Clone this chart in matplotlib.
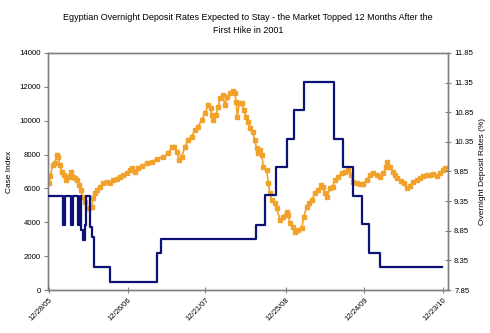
import matplotlib
matplotlib.use("Agg")
import matplotlib.pyplot as plt
import pandas as pd

plt.rcParams['font.family'] = ['Liberation Sans', 'DejaVu Sans']

# CASE index (left axis)
case_dates = [
    "2005-12-29", "2006-01-04", "2006-01-14", "2006-01-25", "2006-02-02", "2006-02-09",
    "2006-02-17", "2006-02-25", "2006-03-07", "2006-03-17", "2006-03-27", "2006-04-07",
    "2006-04-19", "2006-04-27", "2006-05-08", "2006-05-17", "2006-05-23", "2006-06-02",
    "2006-06-12", "2006-06-20", "2006-07-02", "2006-07-13", "2006-07-21", "2006-07-29",
    "2006-08-05", "2006-08-21", "2006-09-05", "2006-09-21", "2006-10-06", "2006-10-21",
    "2006-11-06", "2006-11-21", "2006-12-06", "2006-12-22", "2007-01-06", "2007-01-14",
    "2007-01-29", "2007-02-13", "2007-03-01", "2007-03-24", "2007-04-16", "2007-05-09",
    "2007-06-09", "2007-07-02", "2007-07-18", "2007-07-28", "2007-08-10", "2007-08-22",
    "2007-09-02", "2007-09-17", "2007-10-02", "2007-10-18", "2007-11-02", "2007-11-17",
    "2007-12-03", "2007-12-18", "2008-01-03", "2008-01-14", "2008-01-18", "2008-01-26",
    "2008-02-07", "2008-02-18", "2008-02-26", "2008-03-09", "2008-03-20", "2008-03-31",
    "2008-04-12", "2008-04-25", "2008-05-05", "2008-05-10", "2008-05-16", "2008-05-25",
    "2008-06-05", "2008-06-16", "2008-06-25", "2008-07-06", "2008-07-13", "2008-07-26",
    "2008-08-05", "2008-08-13", "2008-08-21", "2008-08-29", "2008-09-06", "2008-09-13",
    "2008-09-29", "2008-10-06", "2008-10-14", "2008-10-22", "2008-11-06", "2008-11-14",
    "2008-11-29", "2008-12-14", "2008-12-30", "2009-01-06", "2009-01-14", "2009-01-26",
    "2009-02-06", "2009-02-21", "2009-03-09", "2009-03-19", "2009-04-01", "2009-04-13",
    "2009-04-24", "2009-05-09", "2009-05-25", "2009-06-05", "2009-06-14", "2009-06-24",
    "2009-07-05", "2009-07-18", "2009-07-30", "2009-08-10", "2009-08-25", "2009-09-10",
    "2009-09-25", "2009-10-10", "2009-10-21", "2009-11-02", "2009-11-18", "2009-12-03",
    "2009-12-18", "2010-01-03", "2010-01-18", "2010-02-03", "2010-02-18", "2010-03-06",
    "2010-03-21", "2010-04-02", "2010-04-08", "2010-04-21", "2010-05-03", "2010-05-14",
    "2010-05-24", "2010-06-09", "2010-06-24", "2010-07-07", "2010-07-22", "2010-08-06",
    "2010-08-22", "2010-09-06", "2010-09-22", "2010-10-07", "2010-10-23", "2010-11-07",
    "2010-11-23", "2010-12-08", "2010-12-20", "2010-12-31",
]
case_values = [
    6340, 6730, 7380, 7520, 7970, 7870,
    7380, 6990, 6790, 6500, 6690, 6990,
    6690, 6600, 6500, 6200, 5910, 5510,
    5220, 4830, 4830, 4920, 5420, 5710,
    5910, 6100, 6300, 6400, 6340, 6500,
    6540, 6690, 6790, 6930, 7090, 7190,
    6990, 7190, 7320, 7480, 7580, 7720,
    7840, 8070, 8430, 8430, 8170, 7680,
    7870, 8460, 8860, 9060, 9450, 9650,
    10040, 10440, 10930, 10730, 10340, 10040,
    10340, 10830, 11320, 11520, 10930, 11420,
    11620, 11750, 11620, 11120, 10240, 11030,
    11030, 10630, 10240, 9940, 9550, 9350,
    8860, 8370, 8070, 8270, 7970, 7280,
    7090, 6300, 5710, 5320, 5120, 4830,
    4130, 4330, 4620, 4430, 3940, 3740,
    3440, 3540, 3640, 4330, 4920, 5120,
    5320, 5710, 5910, 6200, 6100, 5710,
    5510, 6010, 6100, 6500, 6690, 6890,
    6990, 7090, 6790, 6400, 6300, 6260,
    6260, 6500, 6790, 6890, 6790, 6690,
    6890, 7280, 7580, 7280, 6990, 6790,
    6600, 6460, 6300, 6010, 6140, 6400,
    6500, 6600, 6730, 6790, 6790, 6850,
    6730, 6890, 7090, 7190,
]

# Overnight deposit rate (right axis), value holds from each date to the next
rate_dates = [
    "2005-12-28", "2006-03-02", "2006-03-12", "2006-04-09", "2006-04-18", "2006-05-11",
    "2006-05-20", "2006-05-25", "2006-06-03", "2006-06-12", "2006-06-17", "2006-07-06",
    "2006-07-15", "2006-07-24", "2006-10-06", "2007-05-11", "2007-05-29", "2008-08-10",
    "2008-09-21", "2008-11-11", "2008-12-31", "2009-02-02", "2009-03-20", "2009-08-06",
    "2009-09-16", "2009-11-01", "2009-12-13", "2010-01-14", "2010-03-06", "2010-12-17",
]
rate_values = [
    9.44, 8.95, 9.44, 8.95, 9.44, 8.95,
    9.44, 8.86, 8.69, 8.95, 9.44, 8.91,
    8.74, 8.24, 7.99, 8.47, 8.71, 8.95,
    9.45, 9.93, 10.40, 10.89, 11.36, 10.40,
    9.93, 9.44, 8.96, 8.47, 8.24, 8.24,
]

tick_dates = ["2005-12-28", "2006-12-26", "2007-12-21", "2008-12-25", "2009-12-24", "2010-12-23"]
tick_labels = ["12/28/05", "12/26/06", "12/21/07", "12/25/08", "12/24/09", "12/23/10"]

title = ("Egyptian Overnight Deposit Rates Expected to Stay - the Market Topped 12 Months After the\n"
         "First Hike in 2001")

case_x = pd.to_datetime(case_dates)
rate_x = pd.to_datetime(rate_dates)
ticks_x = pd.to_datetime(tick_dates)

orange = "#F2A12A"
navy = "#0B1175"
grey = "#808080"

fig = plt.figure(figsize=(4.9, 3.33), dpi=100)
ax = fig.add_axes([0.098, 0.129, 0.816, 0.712])
ax2 = ax.twinx()

ax.plot(case_x, case_values, color=orange, lw=1.2, marker="s", ms=3.1,
        mec=orange, mfc=orange, zorder=2)
ax2.plot(rate_x, rate_values, color=navy, lw=1.6, drawstyle="steps-post", zorder=3)

ax.set_xlim(pd.Timestamp("2005-12-24"), pd.Timestamp("2011-01-13"))
ax.set_ylim(0, 14000)
ax.set_yticks(range(0, 14001, 2000))
ax2.set_ylim(7.85, 11.85)
ax2.set_yticks([7.85 + 0.5 * i for i in range(9)])
ax2.set_yticklabels([f"{7.85 + 0.5 * i:.2f}" for i in range(9)])

ax.set_xticks(ticks_x)
ax.set_xticklabels(tick_labels, rotation=45, ha="right", va="top",
                   rotation_mode="anchor", fontsize=5.5)

for a in (ax, ax2):
    for s in a.spines.values():
        s.set_color(grey)
        s.set_linewidth(1.0)
ax.tick_params(axis="y", direction="out", length=3, width=0.8, color=grey,
               labelsize=5.6, pad=2)
ax.tick_params(axis="x", direction="inout", length=4, width=0.8, color=grey, pad=3)
ax2.tick_params(axis="y", direction="inout", length=5, width=0.8, color=grey,
                labelsize=5.6, pad=2)

ax.set_ylabel("Case Index", fontsize=6, labelpad=5)
ax2.set_ylabel("Overnight Deposit Rates (%)", fontsize=6, labelpad=4)

fig.text(0.506, 0.928, title, ha="center", va="center", fontsize=6.5, linespacing=1.6)

fig.savefig("out.png", dpi=100)
